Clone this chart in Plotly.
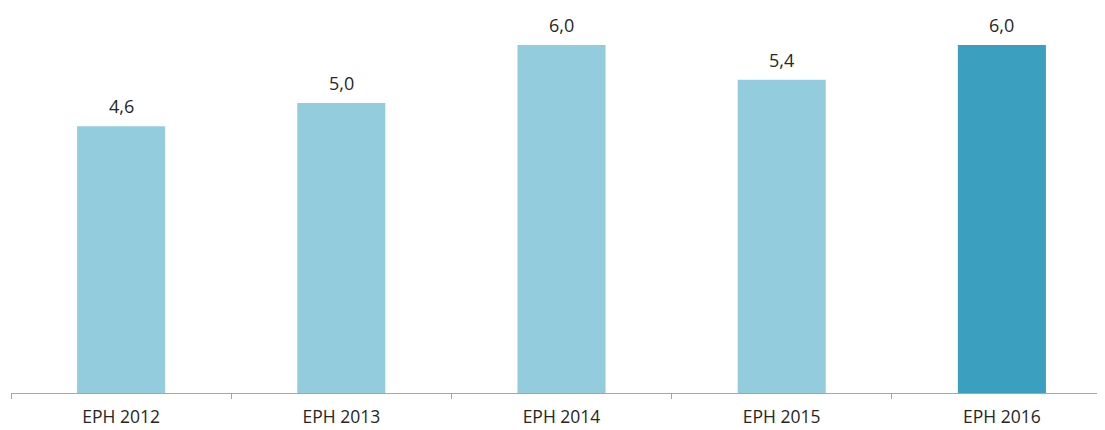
import plotly.graph_objects as go

categories = ["EPH 2012", "EPH 2013", "EPH 2014", "EPH 2015", "EPH 2016"]
values = [4.6, 5.0, 6.0, 5.4, 6.0]
colors = ["#93CDDD", "#93CDDD", "#93CDDD", "#93CDDD", "#3BA0BF"]

fig = go.Figure(go.Bar(
    x=categories, y=values,
    marker=dict(color=colors, line=dict(width=0)),
    width=0.4,
    hoverinfo="x+y",
))

for c, v in zip(categories, values):
    fig.add_annotation(
        x=c, y=v, text=f"{v:.1f}".replace(".", ","),
        showarrow=False, yanchor="bottom", yshift=6,
        font=dict(family="Open Sans", size=18, color="#262626"),
    )

fig.update_layout(
    width=1105, height=430,
    margin=dict(l=3, r=1, t=8, b=45),
    plot_bgcolor="white", paper_bgcolor="white",
    separators=", ",
    showlegend=False,
    xaxis=dict(
        type="category",
        range=[-0.5, 4.5],
        showline=True, linecolor="#A6A6A6", linewidth=1,
        ticks="outside", tickson="boundaries", ticklen=5, tickcolor="#A6A6A6",
        ticklabelstandoff=8,
        tickfont=dict(family="Open Sans", size=17.5, color="#262626"),
        showgrid=False,
    ),
    yaxis=dict(range=[0, 6.5], visible=False, showgrid=False),
)

fig.write_html("out.html")
